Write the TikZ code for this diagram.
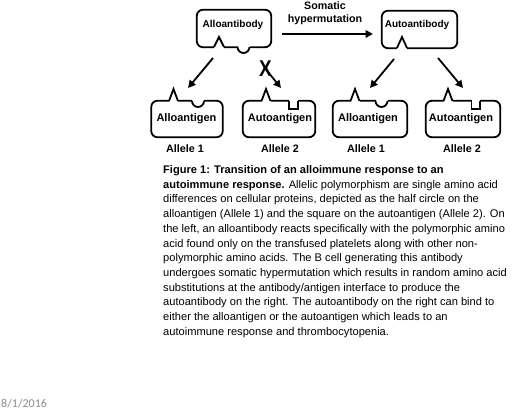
\documentclass[tikz,border=0pt]{standalone}
\usepackage{fontspec}
\setmainfont{Liberation Sans}
\newfontfamily\datefont{Carlito}
\usetikzlibrary{arrows.meta}
\tikzset{
  outl/.style={line width=1.8pt, rounded corners=6pt},
  notchline/.style={line width=1.8pt, line join=miter},
  erase/.style={fill=white, draw=none},
  lbl/.style={font=\bfseries\fontsize{10}{11}\selectfont, inner sep=0},
  glbl/.style={font=\bfseries\fontsize{11}{12}\selectfont, inner sep=0},
  allele/.style={font=\bfseries\fontsize{10.8}{11}\selectfont, inner sep=0},
  arr/.style={line width=1.8pt, -{Triangle[length=7.5pt,width=7.5pt]}},
  captionline/.style={anchor=base west, inner sep=0, font=\fontsize{11.1}{12}\selectfont},
  boxn/.style={inner sep=0, draw=none}
}
\begin{document}
\begin{tikzpicture}[x=1pt,y=-1pt]
\useasboundingbox (0,0) rectangle (520,411);
% ---------- antibodies ----------
\node[boxn, minimum width=74pt, minimum height=37pt] (ab1) at (234,28.5) {};
\draw[outl] (ab1.north west) rectangle (ab1.south east);
\fill[erase] (214,45) rectangle (224,49.5);
\draw[notchline] (214,47) -- (219,37) -- (224,47);
\fill[erase] (237.5,45) rectangle (249.5,49.5);
\draw[notchline] (237.5,47) arc[start angle=180, end angle=360, radius=6pt];
\node[lbl] (ab1t) at (233,25) {Alloantibody};

\node[boxn, minimum width=75pt, minimum height=37pt] (ab2) at (419.5,29.5) {};
\draw[outl] (ab2.north west) rectangle (ab2.south east);
\fill[erase] (397,46) rectangle (407,50.5);
\draw[notchline] (397,48) -- (402,37) -- (407,48);
\node[lbl] (ab2t) at (417,25) {Autoantibody};

\node[font=\bfseries\fontsize{10.7}{13}\selectfont, align=center, inner sep=0] (som) at (325,13) {Somatic\\hypermutation};
\coordinate (sa) at (282,34);
\coordinate (sb) at (373,34);
\draw[arr] (sa) -- (sb);

% ---------- antigens ----------
% A1
\node[boxn, minimum width=71pt, minimum height=36pt] (ag1) at (187,119) {};
\draw[outl] (ag1.north west) rectangle (ag1.south east);
\fill[erase] (169,99) rectangle (178,103.5);
\draw[notchline] (169,101) -- (173.5,89) -- (178,101);
\fill[erase] (192,99) rectangle (204,103.5);
\draw[notchline] (192,101) arc[start angle=180, end angle=360, radius=6pt];
\node[glbl] (ag1t) at (186.5,119) {Alloantigen};
\node[allele] (al1) at (185,149) {Allele 1};
% A2
\node[boxn, minimum width=72pt, minimum height=36pt] (ag2) at (279,119) {};
\draw[outl] (ag2.north west) rectangle (ag2.south east);
\fill[erase] (261.5,99) rectangle (270.5,103.5);
\draw[notchline] (261.5,101) -- (266,89) -- (270.5,101);
\fill[erase] (289,99) rectangle (298,103.5);
\draw[notchline] (289,101) -- (289,109) -- (298,109) -- (298,101);
\node[glbl] (ag2t) at (280,119) {Autoantigen};
\node[allele] (al2) at (280,149) {Allele 2};
% A3
\node[boxn, minimum width=74pt, minimum height=36pt] (ag3) at (370,119) {};
\draw[outl] (ag3.north west) rectangle (ag3.south east);
\fill[erase] (350.5,99) rectangle (359.5,103.5);
\draw[notchline] (350.5,101) -- (355,89) -- (359.5,101);
\fill[erase] (375.5,99) rectangle (387.5,103.5);
\draw[notchline] (375.5,101) arc[start angle=180, end angle=360, radius=6pt];
\node[glbl] (ag3t) at (368,119) {Alloantigen};
\node[allele] (al3) at (366,149) {Allele 1};
% A4
\node[boxn, minimum width=74pt, minimum height=36pt] (ag4) at (463,119) {};
\draw[outl] (ag4.north west) rectangle (ag4.south east);
\fill[erase] (443.5,99) rectangle (452.5,103.5);
\draw[notchline] (443.5,101) -- (448,89) -- (452.5,101);
\fill[erase] (471.5,99) rectangle (480,103.5);
\draw[notchline] (471.5,101) -- (471.5,109) -- (480,109) -- (480,101);
\node[glbl] (ag4t) at (461,119) {Autoantigen};
\node[allele] (al4) at (462,149) {Allele 2};

% ---------- arrows ----------
\coordinate (a1s) at (213,58);  \coordinate (a1e) at (188,88);
\coordinate (a2s) at (264,67);  \coordinate (a2e) at (281,88);
\coordinate (a3s) at (394,59);  \coordinate (a3e) at (370,88);
\coordinate (a4s) at (438,58);  \coordinate (a4e) at (463,88);
\draw[arr] (a1s) -- (a1e);
\draw[arr] (a2s) -- (a2e);
\draw[arr] (a3s) -- (a3e);
\draw[arr] (a4s) -- (a4e);
\node[font=\bfseries\fontsize{19}{19}\selectfont, inner sep=0] (xmark) at (265.5,68.5) {\scalebox{1}[1.2]{X}};

% ---------- caption ----------
\node[captionline] (c1)  at (163,173.5) {\bfseries Figure 1: Transition of an alloimmune response to an};
\node[captionline] (c2)  at (163,188.2) {\textbf{autoimmune response.} Allelic polymorphism are single amino acid};
\node[captionline] (c3)  at (163,203.0) {differences on cellular proteins, depicted as the half circle on the};
\node[captionline] (c4)  at (163,217.7) {alloantigen (Allele 1) and the square on the autoantigen (Allele 2). On};
\node[captionline] (c5)  at (163,232.4) {the left, an alloantibody reacts specifically with the polymorphic amino};
\node[captionline] (c6)  at (163,247.1) {acid found only on the transfused platelets along with other non-};
\node[captionline] (c7)  at (163,261.9) {polymorphic amino acids. The B cell generating this antibody};
\node[captionline] (c8)  at (163,276.6) {undergoes somatic hypermutation which results in random amino acid};
\node[captionline] (c9)  at (163,291.3) {substitutions at the antibody/antigen interface to produce the};
\node[captionline] (c10) at (163,306.0) {autoantibody on the right. The autoantibody on the right can bind to};
\node[captionline] (c11) at (163,320.8) {either the alloantigen or the autoantigen which leads to an};
\node[captionline] (c12) at (163,335.5) {autoimmune response and thrombocytopenia.};

\node[anchor=west, inner sep=0, text=black!45, font=\datefont\fontsize{12}{14}\selectfont] (date) at (1,404) {8/1/2016};
\end{tikzpicture}
\end{document}
